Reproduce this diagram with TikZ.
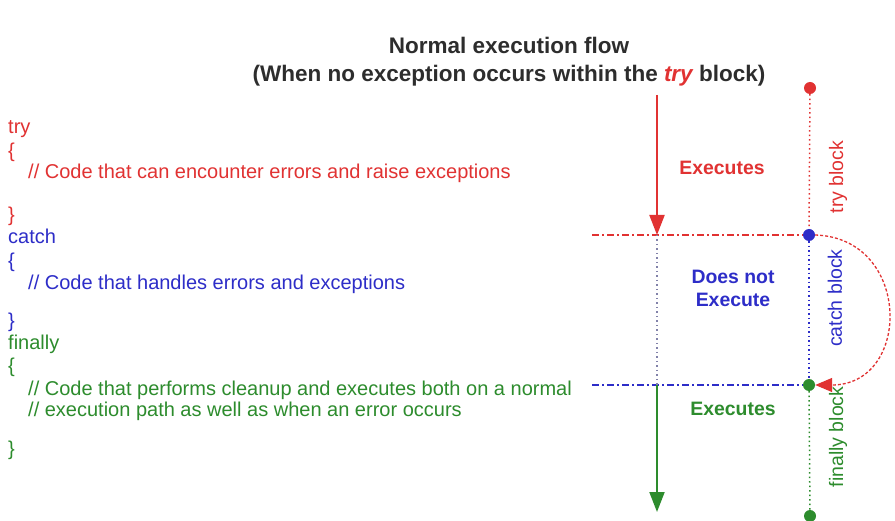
\documentclass[tikz,border=0pt]{standalone}
\usepackage{fontspec}
\setmainfont{Liberation Sans}
\usetikzlibrary{arrows.meta}
\definecolor{cred}{RGB}{225,50,50}
\definecolor{cblue}{RGB}{45,45,200}
\definecolor{cgreen}{RGB}{45,140,45}
\definecolor{ctitle}{RGB}{45,45,45}
\definecolor{cgray}{RGB}{130,130,170}
\begin{document}
\begin{tikzpicture}[x=1pt,y=-1pt,
  code/.style={anchor=base west, inner sep=0pt, font=\fontsize{20}{24}\selectfont},
  lbl/.style={align=center, inner sep=0pt, font=\bfseries\fontsize{19.4}{23}\selectfont},
  side/.style={rotate=90, inner sep=0pt, font=\fontsize{19.5}{23}\selectfont},
  dotnode/.style={circle, inner sep=0pt, minimum size=12pt},
  flow/.style={line width=2pt, -{Triangle[length=20pt,width=15pt]}},
  hline/.style={line width=1.6pt, dash pattern=on 7pt off 3pt on 2pt off 3pt},
  vdots/.style={line width=1.5pt, dash pattern=on 1.5pt off 3pt}
]
\useasboundingbox (0,0) rectangle (895,521);
\fill[white] (0,0) rectangle (895,521);

% title
\node[anchor=base, inner sep=0pt, text=ctitle, font=\bfseries\fontsize{22.5}{27}\selectfont] (t1) at (509,54) {Normal execution flow};
\node[anchor=base, inner sep=0pt, text=ctitle, font=\bfseries\fontsize{22.5}{27}\selectfont] (t2) at (509,82) {(When no exception occurs within the \textcolor{cred}{\itshape try} block)};

% code
\node[code, text=cred] (c1) at (8,134) {try};
\node[code, text=cred] (c2) at (8,158) {\{};
\node[code, text=cred] (c3) at (28,179) {// Code that can encounter errors and raise exceptions};
\node[code, text=cred] (c4) at (8,222) {\}};
\node[code, text=cblue] (c5) at (8,244) {catch};
\node[code, text=cblue] (c6) at (8,268) {\{};
\node[code, text=cblue] (c7) at (28,290) {// Code that handles errors and exceptions};
\node[code, text=cblue] (c8) at (8,328) {\}};
\node[code, text=cgreen] (c9) at (8,350) {finally};
\node[code, text=cgreen] (c10) at (8,373) {\{};
\node[code, text=cgreen] (c11) at (28,396) {// Code that performs cleanup and executes both on a normal};
\node[code, text=cgreen] (c12) at (28,417) {// execution path as well as when an error occurs};
\node[code, text=cgreen] (c13) at (8,456) {\}};

% coordinates of flow
\coordinate (a0) at (657,95);
\coordinate (a1) at (657,235);
\coordinate (a2) at (657,385);
\coordinate (a3) at (657,512);
\coordinate (h1) at (592,235);
\coordinate (h2) at (592,385);

% right dots
\node[dotnode, fill=cred] (d0) at (810,88) {};
\node[dotnode, fill=cblue] (d1) at (809,235) {};
\node[dotnode, fill=cgreen] (d2) at (809,385) {};
\node[dotnode, fill=cgreen] (d3) at (810,516) {};

% horizontal boundaries
\draw[hline, cred] (h1) -- (d1.west);
\draw[hline, cblue] (h2) -- (d2.west);

% vertical dotted lines on the right
\draw[vdots, cred] (d0) -- (d1);
\draw[vdots, cblue] (d1) -- (d2);
\draw[vdots, cgreen] (d2) -- (d3);

% flow arrows
\draw[flow, cred] (a0) -- (a1);
\draw[vdots, cgray] (a1) -- (a2);
\draw[flow, cgreen] (a2) -- (a3);

% skipped catch curve
\draw[cred, line width=1.3pt, dash pattern=on 3pt off 2pt, -{Triangle[length=17pt,width=14pt]}]
  (d1.east) .. controls (912,238) and (912,385) .. (d2.east);

% labels
\node[lbl, text=cred] (e1) at (722,168) {Executes};
\node[lbl, text=cblue] (e2) at (733,288) {Does not\\Execute};
\node[lbl, text=cgreen] (e3) at (733,409) {Executes};

\node[side, text=cred] (s1) at (838,177) {try block};
\node[side, text=cblue] (s2) at (835,298) {catch block};
\node[side, text=cgreen] (s3) at (838,437) {finally block};
\end{tikzpicture}
\end{document}
